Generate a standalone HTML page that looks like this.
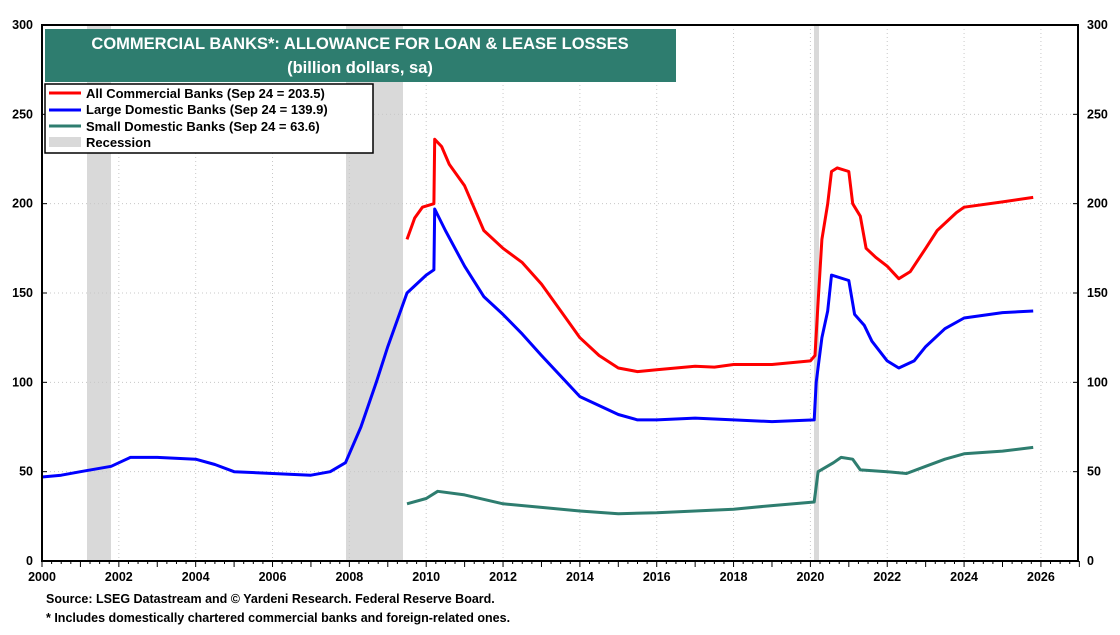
<!DOCTYPE html><html><head><style>body{margin:0;background:#fff}svg text{font-family:"Liberation Sans",sans-serif;font-weight:bold}</style></head><body>
<svg id="s" width="1120" height="630" xmlns="http://www.w3.org/2000/svg">
<rect width="1120" height="630" fill="#fff"/>
<g id="rec" fill="#d9d9d9"><rect x="87" y="25" width="24" height="536"/><rect x="346" y="25" width="57" height="536"/><rect x="814" y="25" width="5" height="536"/></g>
<g id="grid" stroke="#c8c8c8" stroke-dasharray="1,3" stroke-width="1"></g>
<g id="ser" fill="none" stroke-width="3" stroke-linejoin="round"></g>
<rect x="42" y="25" width="1036" height="536" fill="none" stroke="#000" stroke-width="2"/>
<g id="ax" font-size="12.5" fill="#000"></g>
<rect x="45" y="29" width="631" height="53" fill="#2e7d6f"/>
<text x="360" y="49" text-anchor="middle" fill="#fff" font-size="16.5">COMMERCIAL BANKS*: ALLOWANCE FOR LOAN &amp; LEASE LOSSES</text>
<text x="360" y="73" text-anchor="middle" fill="#fff" font-size="16.5">(billion dollars, sa)</text>
<rect x="45" y="84" width="328" height="69" fill="#fff" stroke="#000" stroke-width="1.5"/>
<line x1="49" y1="93" x2="81" y2="93" stroke="#f00" stroke-width="3"/>
<line x1="49" y1="110" x2="81" y2="110" stroke="#00f" stroke-width="3"/>
<line x1="49" y1="126" x2="81" y2="126" stroke="#2e7d6f" stroke-width="3"/>
<rect x="49" y="137" width="32" height="10" fill="#d9d9d9"/>
<g font-size="13"><text x="86" y="98">All Commercial Banks (Sep 24 = 203.5)</text><text x="86" y="114">Large Domestic Banks (Sep 24 = 139.9)</text><text x="86" y="131">Small Domestic Banks (Sep 24 = 63.6)</text><text x="86" y="147">Recession</text></g>
<g font-size="12.5"><text x="46" y="603">Source: LSEG Datastream and © Yardeni Research. Federal Reserve Board.</text><text x="46" y="622">* Includes domestically chartered commercial banks and foreign-related ones.</text></g>
</svg>
<script>
const X=y=>42+(y-2000)*38.42, Y=v=>561-v*1.7867, NS="http://www.w3.org/2000/svg";
function el(p,t,a,txt){const e=document.createElementNS(NS,t);for(const k in a)e.setAttribute(k,a[k]);if(txt!=null)e.textContent=txt;document.getElementById(p).appendChild(e);}
for(let v=50;v<300;v+=50)el("grid","line",{x1:42,x2:1078,y1:Y(v),y2:Y(v)});
for(let y=2002;y<=2026;y+=2)el("grid","line",{x1:X(y),x2:X(y),y1:25,y2:561});
for(let v=0;v<=300;v+=50){el("ax","text",{x:33,y:Y(v)+4,"text-anchor":"end"},v);el("ax","text",{x:1087,y:Y(v)+4},v);
el("ax","line",{x1:42,x2:47,y1:Y(v),y2:Y(v),stroke:"#000"});el("ax","line",{x1:1073,x2:1078,y1:Y(v),y2:Y(v),stroke:"#000"});}
for(let y=2000;y<=2026;y+=2)el("ax","text",{x:X(y),y:581,"text-anchor":"middle"},y);
for(let y=2000;y<=2027;y+=0.25)el("ax","line",{x1:X(y),x2:X(y),y1:561,y2:y%1==0?567:564,stroke:"#000"});
const red=[[2009.5,180],[2009.7,192],[2009.9,198],[2010.2,200],[2010.22,236],[2010.4,232],[2010.6,222],[2011,210],[2011.5,185],[2012,175],[2012.5,167],[2013,155],[2013.5,140],[2014,125],[2014.5,115],[2015,108],[2015.5,106],[2016,107],[2017,109],[2017.5,108.5],[2018,110],[2019,110],[2020,112],[2020.12,115],[2020.2,145],[2020.3,180],[2020.45,200],[2020.55,218],[2020.7,220],[2021,218],[2021.1,200],[2021.3,193],[2021.45,175],[2021.7,170],[2022,165],[2022.3,158],[2022.6,162],[2023,175],[2023.3,185],[2023.8,195],[2024,198],[2025,201],[2025.8,203.5]];
const blue=[[2000,47],[2000.5,48],[2001,50],[2001.8,53],[2002.3,58],[2003,58],[2004,57],[2004.5,54],[2005,50],[2006,49],[2007,48],[2007.5,50],[2007.9,55],[2008.3,75],[2008.7,100],[2009,120],[2009.5,150],[2010,160],[2010.2,163],[2010.22,197],[2010.5,185],[2011,165],[2011.5,148],[2012,138],[2012.5,127],[2013,115],[2014,92],[2015,82],[2015.5,79],[2016,79],[2017,80],[2018,79],[2019,78],[2020.1,79],[2020.15,100],[2020.3,125],[2020.45,140],[2020.55,160],[2021,157],[2021.15,138],[2021.4,132],[2021.6,123],[2022,112],[2022.3,108],[2022.7,112],[2023,120],[2023.5,130],[2024,136],[2025,139],[2025.8,139.9]];
const teal=[[2009.5,32],[2010,35],[2010.3,39],[2011,37],[2012,32],[2013,30],[2014,28],[2015,26.5],[2016,27],[2017,28],[2018,29],[2019,31],[2020.1,33],[2020.2,50],[2020.6,55],[2020.8,58],[2021.1,57],[2021.3,51],[2022,50],[2022.5,49],[2023,53],[2023.5,57],[2024,60],[2025,61.5],[2025.8,63.6]];
function path(d,c){el("ser","path",{d:d.map((p,i)=>(i?"L":"M")+X(p[0]).toFixed(1)+","+Y(p[1]).toFixed(1)).join(""),stroke:c});}
path(teal,"#2e7d6f");path(blue,"#00f");path(red,"#f00");
</script></body></html>
